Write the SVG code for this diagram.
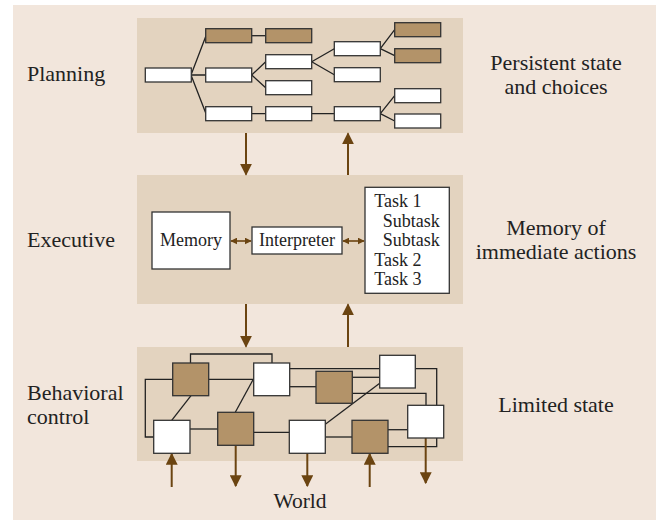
<svg xmlns="http://www.w3.org/2000/svg" width="656" height="520" viewBox="0 0 656 520">
<defs>
<style>
.bg{fill:#f2e6dc}
.band{fill:#e3d3bf}
.w{fill:#ffffff;stroke:#333;stroke-width:1.3}
.b{fill:#b39369;stroke:#333;stroke-width:1.3}
.ln{fill:none;stroke:#222;stroke-width:1.3}
.ar{fill:none;stroke:#6b4411;stroke-width:2}
.ar2{fill:none;stroke:#6b4411;stroke-width:1.6}
.lbl{font-family:"Liberation Serif","Times New Roman",serif;font-size:22px;fill:#222}
.txt{font-family:"Liberation Serif","Times New Roman",serif;font-size:18px;fill:#222}
</style>
<marker id="ah" markerUnits="userSpaceOnUse" markerWidth="12" markerHeight="12" viewBox="0 0 10 10" refX="9" refY="5" orient="auto">
<path d="M0,0 L10,5 L0,10 Z" fill="#6b4411"/>
</marker>
<marker id="sh" markerUnits="userSpaceOnUse" markerWidth="7" markerHeight="7" viewBox="0 0 10 10" refX="9" refY="5" orient="auto-start-reverse">
<path d="M0,0 L10,5 L0,10 Z" fill="#6b4411"/>
</marker>
</defs>
<rect class="bg" x="13" y="5" width="643" height="515"/>
<rect class="band" x="137" y="18" width="326" height="115"/>
<rect class="band" x="137" y="175" width="326" height="129"/>
<rect class="band" x="137" y="347" width="326" height="114"/>

<g id="labels">
<text class="lbl" x="27" y="81">Planning</text>
<text class="lbl" x="27" y="247">Executive</text>
<text class="lbl" x="27" y="400">Behavioral</text>
<text class="lbl" x="27" y="424">control</text>
<text class="lbl" x="556" y="70" text-anchor="middle">Persistent state</text>
<text class="lbl" x="556" y="94" text-anchor="middle">and choices</text>
<text class="lbl" x="556" y="235" text-anchor="middle">Memory of</text>
<text class="lbl" x="556" y="259" text-anchor="middle">immediate actions</text>
<text class="lbl" x="556" y="412" text-anchor="middle">Limited state</text>
<text class="lbl" x="300" y="508" text-anchor="middle" style="font-size:21.5px">World</text>
</g>

<g id="connectors">
<!-- planning tree -->
<path class="ln" d="M191,75 L206,35.7 M191,75 H206 M191,75 L206,113.7"/>
<path class="ln" d="M251.7,35.7 H265.7"/>
<path class="ln" d="M251.7,75 L265.7,61.7 M251.7,75 L265.7,87.7"/>
<path class="ln" d="M311.7,61.7 L334.3,48.7 M311.7,61.7 L334.3,74.7"/>
<path class="ln" d="M380.3,48.7 L394.7,29.7 M380.3,48.7 L394.7,55.7"/>
<path class="ln" d="M251.7,113.7 H265.7 M311.7,113.7 H334.3"/>
<path class="ln" d="M380.3,113.7 L394.7,95.7 M380.3,113.7 L394.7,121"/>
<!-- behavioral network -->
<path class="ln" d="M190.5,363 V354 H272 V363"/>
<path class="ln" d="M173,379.3 H145.3 V437 H154"/>
<path class="ln" d="M208.7,379.3 H253.7"/>
<path class="ln" d="M191,395.7 L171.7,420.3"/>
<path class="ln" d="M253.3,379.3 L235.3,412.3"/>
<path class="ln" d="M289.7,368.7 H379.7"/>
<path class="ln" d="M415.3,368.7 H436.7 V446.7 H388"/>
<path class="ln" d="M289.7,386.7 H316"/>
<path class="ln" d="M352.3,377.3 H379.7"/>
<path class="ln" d="M352.3,393.3 H426 V405.3"/>
<path class="ln" d="M379.7,383.3 L325.3,424.3"/>
<path class="ln" d="M190,429 H217.7"/>
<path class="ln" d="M253.7,432.3 H289.3"/>
<path class="ln" d="M325.3,437 H352"/>
<path class="ln" d="M388,429.7 H407.7"/>
<!-- inter-layer arrows -->
<path class="ar" marker-end="url(#ah)" d="M246,133 V174.5"/>
<path class="ar" marker-end="url(#ah)" d="M348,175 V133.5"/>
<path class="ar" marker-end="url(#ah)" d="M246,304 V346.5"/>
<path class="ar" marker-end="url(#ah)" d="M348,347 V304.5"/>
<!-- executive double arrows -->
<path class="ar2" marker-start="url(#sh)" marker-end="url(#sh)" d="M231,241 H251"/>
<path class="ar2" marker-start="url(#sh)" marker-end="url(#sh)" d="M343,241 H364"/>
<!-- world arrows -->
<path class="ar" marker-end="url(#ah)" d="M171.7,487 V454"/>
<path class="ar" marker-end="url(#ah)" d="M235.7,445.7 V486"/>
<path class="ar" marker-end="url(#ah)" d="M307.3,453.3 V486"/>
<path class="ar" marker-end="url(#ah)" d="M369.7,487 V454"/>
<path class="ar" marker-end="url(#ah)" d="M425.7,438 V483"/>
</g>

<g id="plan-root"><rect class="w" x="145.3" y="68" width="46" height="14"/></g>
<g id="plan-a1"><rect class="b" x="205.7" y="28.7" width="46" height="14"/></g>
<g id="plan-a2"><rect class="b" x="265.7" y="28.7" width="46" height="14"/></g>
<g id="plan-b1"><rect class="w" x="205.7" y="68" width="46" height="14"/></g>
<g id="plan-b2"><rect class="w" x="265.7" y="54.7" width="46" height="14"/></g>
<g id="plan-b3"><rect class="w" x="265.7" y="80.7" width="46" height="14"/></g>
<g id="plan-b4"><rect class="w" x="334.3" y="41.7" width="46" height="14"/></g>
<g id="plan-b5"><rect class="w" x="334.3" y="67.7" width="46" height="14"/></g>
<g id="plan-b6"><rect class="b" x="394.7" y="22.7" width="46" height="14"/></g>
<g id="plan-b7"><rect class="b" x="394.7" y="48.7" width="46" height="14"/></g>
<g id="plan-c1"><rect class="w" x="205.7" y="106.7" width="46" height="14"/></g>
<g id="plan-c2"><rect class="w" x="265.7" y="106.7" width="46" height="14"/></g>
<g id="plan-c3"><rect class="w" x="334.3" y="106.7" width="46" height="14"/></g>
<g id="plan-c4"><rect class="w" x="394.7" y="88.7" width="46" height="14"/></g>
<g id="plan-c5"><rect class="w" x="394.7" y="114" width="46" height="14"/></g>

<g id="memory"><rect class="w" x="152" y="212" width="78" height="57"/><text class="txt" x="191" y="246" text-anchor="middle">Memory</text></g>
<g id="interpreter"><rect class="w" x="252" y="227" width="90" height="27"/><text class="txt" x="297" y="246" text-anchor="middle">Interpreter</text></g>
<g id="tasks"><rect class="w" x="365" y="187.3" width="84.3" height="106"/>
<text class="txt" x="374.3" y="207">Task 1</text>
<text class="txt" x="382.7" y="227">Subtask</text>
<text class="txt" x="382.7" y="245.5">Subtask</text>
<text class="txt" x="374.3" y="266">Task 2</text>
<text class="txt" x="374.3" y="284.5">Task 3</text>
</g>

<g id="beh-b1"><rect class="b" x="172.7" y="363" width="36" height="32.7"/></g>
<g id="beh-w1"><rect class="w" x="253.7" y="363" width="36" height="32.7"/></g>
<g id="beh-b2"><rect class="b" x="316" y="371.3" width="36.3" height="32"/></g>
<g id="beh-w2"><rect class="w" x="379.7" y="355.3" width="35.6" height="32.7"/></g>
<g id="beh-w3"><rect class="w" x="407.7" y="405.3" width="36" height="32.7"/></g>
<g id="beh-w4"><rect class="w" x="153.7" y="420.3" width="36.3" height="33"/></g>
<g id="beh-b3"><rect class="b" x="217.7" y="412.3" width="36" height="33"/></g>
<g id="beh-w5"><rect class="w" x="289.3" y="420.3" width="36" height="33"/></g>
<g id="beh-b4"><rect class="b" x="352" y="420.3" width="36" height="33"/></g>
</svg>
